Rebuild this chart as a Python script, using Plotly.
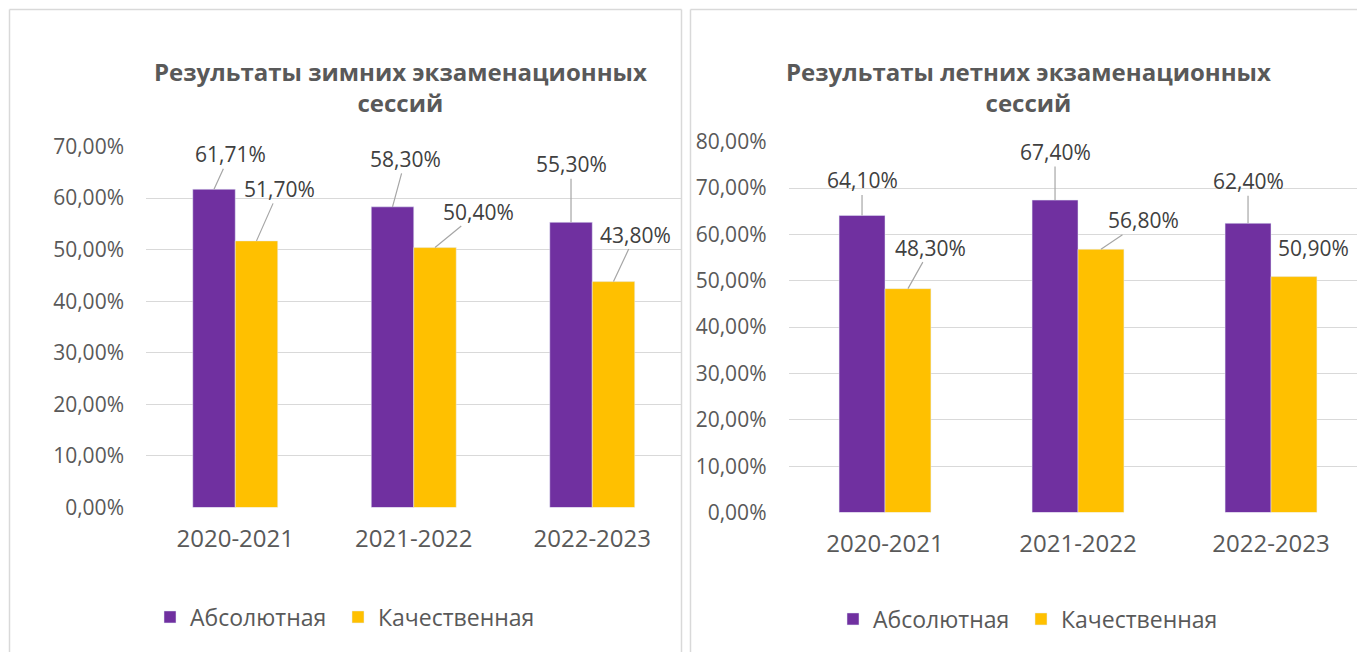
import plotly.graph_objects as go

W, H = 1357, 652

# ---------------- data ----------------
years = ["2020-2021", "2021-2022", "2022-2023"]
series_names = ["Абсолютная", "Качественная"]
winter_abs = [0.6171, 0.583, 0.553]
winter_qual = [0.517, 0.504, 0.438]
summer_abs = [0.641, 0.674, 0.624]
summer_qual = [0.483, 0.568, 0.509]

title_winter = "Результаты зимних экзаменационных<br>сессий"
title_summer = "Результаты летних экзаменационных<br>сессий"

# ---------------- style ----------------
PURPLE = "#7030A0"
YELLOW = "#FFC000"
GRID = "#D9D9D9"
TICK = "#595959"
LABEL = "#404040"
FONT = "Open Sans"

# label offsets (pixels) for data labels: (ax, ay, show leader)
winter_abs_off = [(16, -35, True), (13, -48, True), (0, -58, True)]
winter_qual_off = [(23, -52, True), (44, -36, True), (22, -47, True)]
summer_abs_off = [(0, -35, True), (0, -48, True), (0, -42, True)]
summer_qual_off = [(23, -41, True), (43, -29, True), (20, -29, False)]

BAR_OFF = 0.119


def fmt(v):
    return f"{v * 100:.2f}%".replace(".", ",")


x_idx = list(range(len(years)))

fig = go.Figure()
fig.add_trace(go.Bar(x=x_idx, y=winter_abs, name=series_names[0], marker_color=PURPLE,
                     xaxis="x", yaxis="y", legend="legend", legendwidth=143))
fig.add_trace(go.Bar(x=x_idx, y=winter_qual, name=series_names[1], marker_color=YELLOW,
                     xaxis="x", yaxis="y", legend="legend", legendwidth=175))
fig.add_trace(go.Bar(x=x_idx, y=summer_abs, name=series_names[0], marker_color=PURPLE,
                     xaxis="x2", yaxis="y2", legend="legend2", legendwidth=143))
fig.add_trace(go.Bar(x=x_idx, y=summer_qual, name=series_names[1], marker_color=YELLOW,
                     xaxis="x2", yaxis="y2", legend="legend2", legendwidth=175))

annotations = []


def add_labels(values, offsets, dx, xref, yref):
    for i, (v, (ax, ay, lead)) in enumerate(zip(values, offsets)):
        annotations.append(dict(
            x=x_idx[i] + dx, y=v, xref=xref, yref=yref, text=fmt(v),
            showarrow=True, ax=ax, ay=ay, arrowhead=0, arrowwidth=1.2,
            arrowcolor="#A6A6A6" if lead else "rgba(0,0,0,0)", standoff=0,
            font=dict(family=FONT, size=21, color=LABEL), borderpad=0,
        ))


add_labels(winter_abs, winter_abs_off, -BAR_OFF, "x", "y")
add_labels(winter_qual, winter_qual_off, BAR_OFF, "x", "y")
add_labels(summer_abs, summer_abs_off, -BAR_OFF, "x2", "y2")
add_labels(summer_qual, summer_qual_off, BAR_OFF, "x2", "y2")

# titles
annotations.append(dict(text=title_winter, x=400 / W, y=1 - 87 / H, xref="paper", yref="paper",
                        showarrow=False, xanchor="center", yanchor="middle",
                        font=dict(family=FONT, size=24, color=TICK, weight="bold")))
annotations.append(dict(text=title_summer, x=1028 / W, y=1 - 87 / H, xref="paper", yref="paper",
                        showarrow=False, xanchor="center", yanchor="middle",
                        font=dict(family=FONT, size=24, color=TICK, weight="bold")))

# chart borders
border = dict(color="#D9D9D9", width=1.5)
shapes = [
    dict(type="line", xref="paper", yref="paper", x0=9.5 / W, x1=681.5 / W, y0=1 - 9.5 / H, y1=1 - 9.5 / H, line=border),
    dict(type="line", xref="paper", yref="paper", x0=9.5 / W, x1=9.5 / W, y0=1 - 9.5 / H, y1=-0.05, line=border),
    dict(type="line", xref="paper", yref="paper", x0=681.5 / W, x1=681.5 / W, y0=1 - 9.5 / H, y1=-0.05, line=border),
    dict(type="line", xref="paper", yref="paper", x0=690.5 / W, x1=1.05, y0=1 - 9.5 / H, y1=1 - 9.5 / H, line=border),
    dict(type="line", xref="paper", yref="paper", x0=690.5 / W, x1=690.5 / W, y0=1 - 9.5 / H, y1=-0.05, line=border),
]

xaxis_common = dict(tickmode="array", tickvals=x_idx, ticktext=years, showgrid=False,
                    zeroline=False, showline=False, ticks="",
                    tickfont=dict(family=FONT, size=24, color=TICK), ticklabelstandoff=14)
yaxis_common = dict(tickformat=".2%", showgrid=True, gridcolor=GRID, gridwidth=1,
                    zeroline=False, showline=False, ticks="",
                    tickfont=dict(family=FONT, size=21, color=TICK), ticklabelstandoff=21)

fig.update_layout(
    width=W, height=H, margin=dict(l=0, r=0, t=0, b=0, autoexpand=False),
    paper_bgcolor="white", plot_bgcolor="white",
    separators=", ",
    barmode="group", bargap=0.524, bargroupgap=0,
    xaxis=dict(domain=[146 / W, 681.5 / W], range=[-0.5, 2.5], anchor="y", **xaxis_common),
    yaxis=dict(domain=[144.5 / H, 505.5 / H], range=[0, 0.7], dtick=0.1, anchor="x", **yaxis_common),
    xaxis2=dict(domain=[788.5 / W, 1], range=[-0.5, -0.5 + (W - 788.5) / 193], anchor="y2", **xaxis_common),
    yaxis2=dict(domain=[139.5 / H, 510.3 / H], range=[0, 0.8], dtick=0.1, anchor="x2", **yaxis_common),
    legend=dict(orientation="h", x=150 / W, y=1 - 617 / H, xanchor="left", yanchor="middle",
                font=dict(family=FONT, size=23, color=TICK), bgcolor="rgba(0,0,0,0)"),
    legend2=dict(orientation="h", x=833 / W, y=1 - 619 / H, xanchor="left", yanchor="middle",
                 font=dict(family=FONT, size=23, color=TICK), bgcolor="rgba(0,0,0,0)"),
    annotations=annotations, shapes=shapes,
)

fig.write_html("out.html", config={"displayModeBar": False},
               post_script="document.body.style.margin='0';")
